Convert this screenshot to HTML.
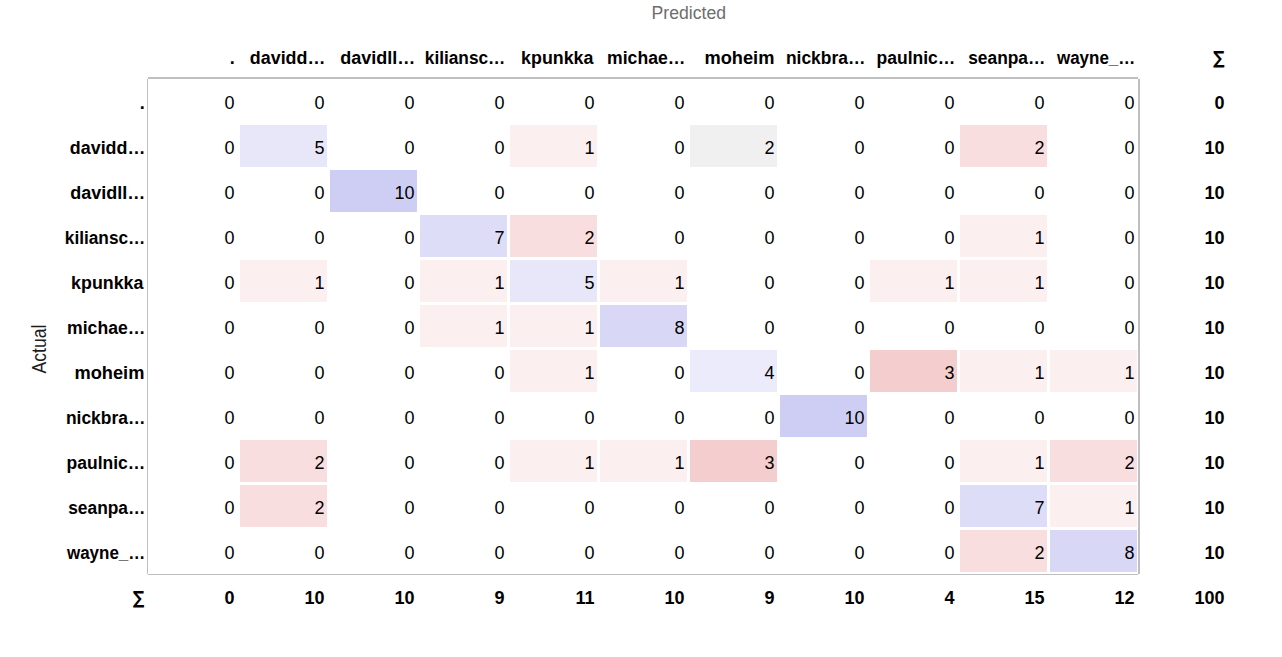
<!DOCTYPE html><html><head><meta charset="utf-8"><title>Confusion Matrix</title><style>
html,body{margin:0;padding:0;background:#fff;width:1282px;height:657px;overflow:hidden}
svg{display:block}
text{font-family:"Liberation Sans",Arial,sans-serif;font-size:18px;fill:#000}
.b{font-weight:bold}
.l{font-size:18px}
.g{fill:#6e6e6e}
.s{font-family:"DejaVu Sans","Liberation Sans",sans-serif}
</style></head><body>
<svg width="1282" height="657" viewBox="0 0 1282 657">
<rect x="240" y="125" width="87" height="42" fill="#e7e7f9"/>
<rect x="510" y="125" width="87" height="42" fill="#fbefef"/>
<rect x="690" y="125" width="87" height="42" fill="#f0f0f0"/>
<rect x="960" y="125" width="87" height="42" fill="#f8dede"/>
<rect x="330" y="170" width="87" height="42" fill="#cecef4"/>
<rect x="420" y="215" width="87" height="42" fill="#ddddf7"/>
<rect x="510" y="215" width="87" height="42" fill="#f8dede"/>
<rect x="960" y="215" width="87" height="42" fill="#fbefef"/>
<rect x="240" y="260" width="87" height="42" fill="#fbefef"/>
<rect x="420" y="260" width="87" height="42" fill="#fbefef"/>
<rect x="510" y="260" width="87" height="42" fill="#e7e7f9"/>
<rect x="600" y="260" width="87" height="42" fill="#fbefef"/>
<rect x="870" y="260" width="87" height="42" fill="#fbefef"/>
<rect x="960" y="260" width="87" height="42" fill="#fbefef"/>
<rect x="420" y="305" width="87" height="42" fill="#fbefef"/>
<rect x="510" y="305" width="87" height="42" fill="#fbefef"/>
<rect x="600" y="305" width="87" height="42" fill="#d8d8f6"/>
<rect x="510" y="350" width="87" height="42" fill="#fbefef"/>
<rect x="690" y="350" width="87" height="42" fill="#ebebfb"/>
<rect x="870" y="350" width="87" height="42" fill="#f4cece"/>
<rect x="960" y="350" width="87" height="42" fill="#fbefef"/>
<rect x="1050" y="350" width="87" height="42" fill="#fbefef"/>
<rect x="780" y="395" width="87" height="42" fill="#cecef4"/>
<rect x="240" y="440" width="87" height="42" fill="#f8dede"/>
<rect x="510" y="440" width="87" height="42" fill="#fbefef"/>
<rect x="600" y="440" width="87" height="42" fill="#fbefef"/>
<rect x="690" y="440" width="87" height="42" fill="#f4cece"/>
<rect x="960" y="440" width="87" height="42" fill="#fbefef"/>
<rect x="1050" y="440" width="87" height="42" fill="#f8dede"/>
<rect x="240" y="485" width="87" height="42" fill="#f8dede"/>
<rect x="960" y="485" width="87" height="42" fill="#ddddf7"/>
<rect x="1050" y="485" width="87" height="42" fill="#fbefef"/>
<rect x="960" y="530" width="87" height="42" fill="#f8dede"/>
<rect x="1050" y="530" width="87" height="42" fill="#d8d8f6"/>
<rect x="148" y="77" width="990" height="2" fill="#bfbfbf"/>
<rect x="147" y="79" width="1" height="495" fill="#bfbfbf"/>
<rect x="1138" y="79" width="2" height="495" fill="#bfbfbf"/>
<rect x="148" y="574" width="990" height="1" fill="#bfbfbf"/>
<text class="g" x="688.8" y="19" text-anchor="middle" textLength="74.5" lengthAdjust="spacingAndGlyphs">Predicted</text>
<text x="46" y="349" text-anchor="middle" transform="rotate(-90 46 349)" style="font-size:19.5px;fill:#1c1c1c" textLength="48.8" lengthAdjust="spacingAndGlyphs">Actual</text>
<text class="b l" x="234.67" y="64" text-anchor="end">.</text>
<text class="b l" x="144.67" y="109" text-anchor="end">.</text>
<text class="b l" x="325.39" y="64" text-anchor="end" textLength="75.60" lengthAdjust="spacingAndGlyphs">davidd…</text>
<text class="b l" x="145.39" y="154" text-anchor="end" textLength="75.60" lengthAdjust="spacingAndGlyphs">davidd…</text>
<text class="b l" x="415.40" y="64" text-anchor="end" textLength="75.12" lengthAdjust="spacingAndGlyphs">davidll…</text>
<text class="b l" x="145.40" y="199" text-anchor="end" textLength="75.12" lengthAdjust="spacingAndGlyphs">davidll…</text>
<text class="b l" x="505.32" y="64" text-anchor="end" textLength="80.52" lengthAdjust="spacingAndGlyphs">kiliansc…</text>
<text class="b l" x="145.32" y="244" text-anchor="end" textLength="80.52" lengthAdjust="spacingAndGlyphs">kiliansc…</text>
<text class="b l" x="593.40" y="64" text-anchor="end" textLength="72.32" lengthAdjust="spacingAndGlyphs">kpunkka</text>
<text class="b l" x="143.40" y="289" text-anchor="end" textLength="72.32" lengthAdjust="spacingAndGlyphs">kpunkka</text>
<text class="b l" x="685.36" y="64" text-anchor="end" textLength="78.28" lengthAdjust="spacingAndGlyphs">michae…</text>
<text class="b l" x="145.36" y="334" text-anchor="end" textLength="78.28" lengthAdjust="spacingAndGlyphs">michae…</text>
<text class="b l" x="774.41" y="64" text-anchor="end" textLength="69.94" lengthAdjust="spacingAndGlyphs">moheim</text>
<text class="b l" x="144.41" y="379" text-anchor="end" textLength="69.94" lengthAdjust="spacingAndGlyphs">moheim</text>
<text class="b l" x="865.34" y="64" text-anchor="end" textLength="79.44" lengthAdjust="spacingAndGlyphs">nickbra…</text>
<text class="b l" x="145.34" y="424" text-anchor="end" textLength="79.44" lengthAdjust="spacingAndGlyphs">nickbra…</text>
<text class="b l" x="955.34" y="64" text-anchor="end" textLength="78.73" lengthAdjust="spacingAndGlyphs">paulnic…</text>
<text class="b l" x="145.34" y="469" text-anchor="end" textLength="78.73" lengthAdjust="spacingAndGlyphs">paulnic…</text>
<text class="b l" x="1045.33" y="64" text-anchor="end" textLength="77.14" lengthAdjust="spacingAndGlyphs">seanpa…</text>
<text class="b l" x="145.33" y="514" text-anchor="end" textLength="77.14" lengthAdjust="spacingAndGlyphs">seanpa…</text>
<text class="b l" x="1135.29" y="64" text-anchor="end" textLength="78.33" lengthAdjust="spacingAndGlyphs">wayne_…</text>
<text class="b l" x="145.29" y="559" text-anchor="end" textLength="78.33" lengthAdjust="spacingAndGlyphs">wayne_…</text>
<text x="234.5" y="109" text-anchor="end">0</text>
<text x="324.5" y="109" text-anchor="end">0</text>
<text x="414.5" y="109" text-anchor="end">0</text>
<text x="504.5" y="109" text-anchor="end">0</text>
<text x="594.5" y="109" text-anchor="end">0</text>
<text x="684.5" y="109" text-anchor="end">0</text>
<text x="774.5" y="109" text-anchor="end">0</text>
<text x="864.5" y="109" text-anchor="end">0</text>
<text x="954.5" y="109" text-anchor="end">0</text>
<text x="1044.5" y="109" text-anchor="end">0</text>
<text x="1134.5" y="109" text-anchor="end">0</text>
<text class="b" x="1224.5" y="109" text-anchor="end">0</text>
<text x="234.5" y="154" text-anchor="end">0</text>
<text x="324.5" y="154" text-anchor="end">5</text>
<text x="414.5" y="154" text-anchor="end">0</text>
<text x="504.5" y="154" text-anchor="end">0</text>
<text x="594.5" y="154" text-anchor="end">1</text>
<text x="684.5" y="154" text-anchor="end">0</text>
<text x="774.5" y="154" text-anchor="end">2</text>
<text x="864.5" y="154" text-anchor="end">0</text>
<text x="954.5" y="154" text-anchor="end">0</text>
<text x="1044.5" y="154" text-anchor="end">2</text>
<text x="1134.5" y="154" text-anchor="end">0</text>
<text class="b" x="1224.5" y="154" text-anchor="end">10</text>
<text x="234.5" y="199" text-anchor="end">0</text>
<text x="324.5" y="199" text-anchor="end">0</text>
<text x="414.5" y="199" text-anchor="end">10</text>
<text x="504.5" y="199" text-anchor="end">0</text>
<text x="594.5" y="199" text-anchor="end">0</text>
<text x="684.5" y="199" text-anchor="end">0</text>
<text x="774.5" y="199" text-anchor="end">0</text>
<text x="864.5" y="199" text-anchor="end">0</text>
<text x="954.5" y="199" text-anchor="end">0</text>
<text x="1044.5" y="199" text-anchor="end">0</text>
<text x="1134.5" y="199" text-anchor="end">0</text>
<text class="b" x="1224.5" y="199" text-anchor="end">10</text>
<text x="234.5" y="244" text-anchor="end">0</text>
<text x="324.5" y="244" text-anchor="end">0</text>
<text x="414.5" y="244" text-anchor="end">0</text>
<text x="504.5" y="244" text-anchor="end">7</text>
<text x="594.5" y="244" text-anchor="end">2</text>
<text x="684.5" y="244" text-anchor="end">0</text>
<text x="774.5" y="244" text-anchor="end">0</text>
<text x="864.5" y="244" text-anchor="end">0</text>
<text x="954.5" y="244" text-anchor="end">0</text>
<text x="1044.5" y="244" text-anchor="end">1</text>
<text x="1134.5" y="244" text-anchor="end">0</text>
<text class="b" x="1224.5" y="244" text-anchor="end">10</text>
<text x="234.5" y="289" text-anchor="end">0</text>
<text x="324.5" y="289" text-anchor="end">1</text>
<text x="414.5" y="289" text-anchor="end">0</text>
<text x="504.5" y="289" text-anchor="end">1</text>
<text x="594.5" y="289" text-anchor="end">5</text>
<text x="684.5" y="289" text-anchor="end">1</text>
<text x="774.5" y="289" text-anchor="end">0</text>
<text x="864.5" y="289" text-anchor="end">0</text>
<text x="954.5" y="289" text-anchor="end">1</text>
<text x="1044.5" y="289" text-anchor="end">1</text>
<text x="1134.5" y="289" text-anchor="end">0</text>
<text class="b" x="1224.5" y="289" text-anchor="end">10</text>
<text x="234.5" y="334" text-anchor="end">0</text>
<text x="324.5" y="334" text-anchor="end">0</text>
<text x="414.5" y="334" text-anchor="end">0</text>
<text x="504.5" y="334" text-anchor="end">1</text>
<text x="594.5" y="334" text-anchor="end">1</text>
<text x="684.5" y="334" text-anchor="end">8</text>
<text x="774.5" y="334" text-anchor="end">0</text>
<text x="864.5" y="334" text-anchor="end">0</text>
<text x="954.5" y="334" text-anchor="end">0</text>
<text x="1044.5" y="334" text-anchor="end">0</text>
<text x="1134.5" y="334" text-anchor="end">0</text>
<text class="b" x="1224.5" y="334" text-anchor="end">10</text>
<text x="234.5" y="379" text-anchor="end">0</text>
<text x="324.5" y="379" text-anchor="end">0</text>
<text x="414.5" y="379" text-anchor="end">0</text>
<text x="504.5" y="379" text-anchor="end">0</text>
<text x="594.5" y="379" text-anchor="end">1</text>
<text x="684.5" y="379" text-anchor="end">0</text>
<text x="774.5" y="379" text-anchor="end">4</text>
<text x="864.5" y="379" text-anchor="end">0</text>
<text x="954.5" y="379" text-anchor="end">3</text>
<text x="1044.5" y="379" text-anchor="end">1</text>
<text x="1134.5" y="379" text-anchor="end">1</text>
<text class="b" x="1224.5" y="379" text-anchor="end">10</text>
<text x="234.5" y="424" text-anchor="end">0</text>
<text x="324.5" y="424" text-anchor="end">0</text>
<text x="414.5" y="424" text-anchor="end">0</text>
<text x="504.5" y="424" text-anchor="end">0</text>
<text x="594.5" y="424" text-anchor="end">0</text>
<text x="684.5" y="424" text-anchor="end">0</text>
<text x="774.5" y="424" text-anchor="end">0</text>
<text x="864.5" y="424" text-anchor="end">10</text>
<text x="954.5" y="424" text-anchor="end">0</text>
<text x="1044.5" y="424" text-anchor="end">0</text>
<text x="1134.5" y="424" text-anchor="end">0</text>
<text class="b" x="1224.5" y="424" text-anchor="end">10</text>
<text x="234.5" y="469" text-anchor="end">0</text>
<text x="324.5" y="469" text-anchor="end">2</text>
<text x="414.5" y="469" text-anchor="end">0</text>
<text x="504.5" y="469" text-anchor="end">0</text>
<text x="594.5" y="469" text-anchor="end">1</text>
<text x="684.5" y="469" text-anchor="end">1</text>
<text x="774.5" y="469" text-anchor="end">3</text>
<text x="864.5" y="469" text-anchor="end">0</text>
<text x="954.5" y="469" text-anchor="end">0</text>
<text x="1044.5" y="469" text-anchor="end">1</text>
<text x="1134.5" y="469" text-anchor="end">2</text>
<text class="b" x="1224.5" y="469" text-anchor="end">10</text>
<text x="234.5" y="514" text-anchor="end">0</text>
<text x="324.5" y="514" text-anchor="end">2</text>
<text x="414.5" y="514" text-anchor="end">0</text>
<text x="504.5" y="514" text-anchor="end">0</text>
<text x="594.5" y="514" text-anchor="end">0</text>
<text x="684.5" y="514" text-anchor="end">0</text>
<text x="774.5" y="514" text-anchor="end">0</text>
<text x="864.5" y="514" text-anchor="end">0</text>
<text x="954.5" y="514" text-anchor="end">0</text>
<text x="1044.5" y="514" text-anchor="end">7</text>
<text x="1134.5" y="514" text-anchor="end">1</text>
<text class="b" x="1224.5" y="514" text-anchor="end">10</text>
<text x="234.5" y="559" text-anchor="end">0</text>
<text x="324.5" y="559" text-anchor="end">0</text>
<text x="414.5" y="559" text-anchor="end">0</text>
<text x="504.5" y="559" text-anchor="end">0</text>
<text x="594.5" y="559" text-anchor="end">0</text>
<text x="684.5" y="559" text-anchor="end">0</text>
<text x="774.5" y="559" text-anchor="end">0</text>
<text x="864.5" y="559" text-anchor="end">0</text>
<text x="954.5" y="559" text-anchor="end">0</text>
<text x="1044.5" y="559" text-anchor="end">2</text>
<text x="1134.5" y="559" text-anchor="end">8</text>
<text class="b" x="1224.5" y="559" text-anchor="end">10</text>
<text class="b" x="234.5" y="604" text-anchor="end">0</text>
<text class="b" x="324.5" y="604" text-anchor="end">10</text>
<text class="b" x="414.5" y="604" text-anchor="end">10</text>
<text class="b" x="504.5" y="604" text-anchor="end">9</text>
<text class="b" x="594.5" y="604" text-anchor="end">11</text>
<text class="b" x="684.5" y="604" text-anchor="end">10</text>
<text class="b" x="774.5" y="604" text-anchor="end">9</text>
<text class="b" x="864.5" y="604" text-anchor="end">10</text>
<text class="b" x="954.5" y="604" text-anchor="end">4</text>
<text class="b" x="1044.5" y="604" text-anchor="end">15</text>
<text class="b" x="1134.5" y="604" text-anchor="end">12</text>
<text class="b" x="1224.5" y="604" text-anchor="end">100</text>
<text class="s b" x="1218.9" y="64" text-anchor="middle" textLength="11.5" lengthAdjust="spacingAndGlyphs">∑</text>
<text class="s b" x="138.75" y="604" text-anchor="middle" textLength="11.5" lengthAdjust="spacingAndGlyphs">∑</text>
</svg></body></html>
